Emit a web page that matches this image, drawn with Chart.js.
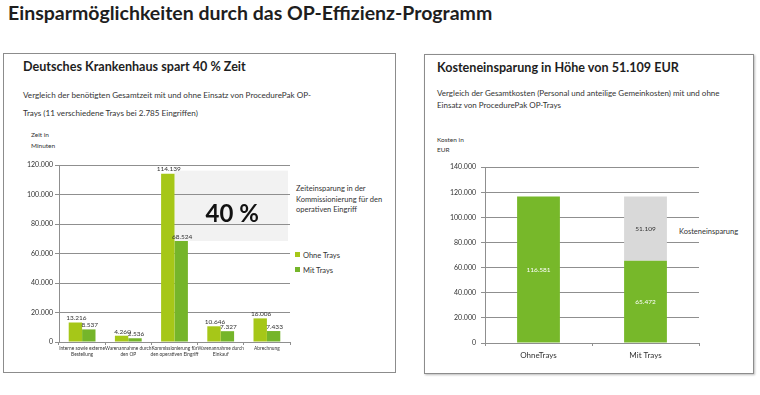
<!DOCTYPE html>
<html lang="de">
<head>
<meta charset="utf-8">
<script src="https://cdn.jsdelivr.net/npm/chart.js@4.4.0/dist/chart.umd.min.js"></script>
<style>
  body { margin: 0; width: 760px; height: 395px; background: #fff; position: relative; overflow: hidden;
         font-family: Lato, "Open Sans", sans-serif; color: #1e1e1e; }
  .t { position: absolute; white-space: nowrap; }
  .panel { position: absolute; border: 1px solid #8c8c8c; box-sizing: border-box; }
  canvas { position: absolute; }
  .sw { display: inline-block; width: 5px; height: 5px; margin-right: 3px; vertical-align: 1px; }
</style>
</head>
<body>
<div class="t" style="left:8px; top:1px; font-size:19.5px; font-weight:700; line-height:24px;">Einsparmöglichkeiten durch das OP-Effizienz-Programm</div>

<div class="panel" style="left:3px; top:53px; width:393px; height:320px;"></div>
<div class="panel" style="left:424px; top:54px; width:330px; height:320px; box-shadow:1px 1px 2px #bbb;"></div>

<div class="t" style="left:23px; top:59px; font-size:12.6px; font-weight:700; line-height:16px;">Deutsches Krankenhaus spart 40 % Zeit</div>
<div class="t" style="left:23px; top:86px; font-size:8.1px; line-height:18px; color:#333;">Vergleich der benötigten Gesamtzeit mit und ohne Einsatz von ProcedurePak OP-<br>Trays (11 verschiedene Trays bei 2.785 Eingriffen)</div>
<div class="t" style="left:31px; top:129px; font-size:6.5px; line-height:11px; color:#333;">Zeit in<br>Minuten</div>

<div class="t" style="left:437px; top:60px; font-size:12.6px; font-weight:700; line-height:16px;">Kosteneinsparung in Höhe von 51.109 EUR</div>
<div class="t" style="left:437px; top:87px; font-size:8px; line-height:12px; color:#333;">Vergleich der Gesamtkosten (Personal und anteilige Gemeinkosten) mit und ohne<br>Einsatz von ProcedurePak OP-Trays</div>
<div class="t" style="left:437px; top:135px; font-size:6.5px; line-height:10px; color:#333;">Kosten in<br>EUR</div>

<div class="t" style="left:296px; top:184px; font-size:7.5px; line-height:10.5px; color:#333;">Zeiteinsparung in der<br>Kommissionierung für den<br>operativen Eingriff</div>
<div class="t" id="legend" style="left:295px; top:248px; font-size:7.5px; line-height:15px; color:#333;"></div>
<div class="t" style="left:679px; top:227px; font-size:7.5px; line-height:10px; color:#333;">Kosteneinsparung</div>

<canvas id="timeChart" width="385" height="215" style="left:8px; top:155px; width:385px; height:215px;"></canvas>
<canvas id="costChart" width="320" height="210" style="left:430px; top:158px; width:320px; height:210px;"></canvas>

<script>
// Zeit (Minuten)
const timeCategories = [
  ["Interne sowie externe", "Bestellung"],
  ["Warenannahme durch", "den OP"],
  ["Kommissionierung für", "den operativen Eingriff"],
  ["Warenannahme durch", "Einkauf"],
  ["Abrechnung"]
];
const timeSeriesNames = ["Ohne Trays", "Mit Trays"];
const timeWithoutTrays = [13216, 4260, 114139, 10646, 16006];
const timeWithTrays = [8537, 2536, 68524, 7327, 7433];
const timeTicks = [0, 20000, 40000, 60000, 80000, 100000, 120000];

// Kosten (EUR)
const costCategories = ["OhneTrays", "Mit Trays"];
const costTotals = [116581, 65472];
const costSavings = [null, 51109];
const costTicks = [0, 20000, 40000, 60000, 80000, 100000, 120000, 140000];

const colorOhne = '#a6c718';
const colorMit = '#75b52a';
const colorCost = '#77b82a';
const colorSaving = '#d9d9d9';
const gridColor = '#8f8f8f';

const fmt = v => String(v).replace(/\B(?=(\d{3})+(?!\d))/g, '.');

// legend
document.getElementById('legend').innerHTML = timeSeriesNames.map((n, i) =>
  '<div><span class="sw" style="background:' + [colorOhne, colorMit][i] + '"></span>' + n + '</div>').join('');

// savings band behind the Kommissionierung bars + values above bars
const timeMarks = {
  id: 'timeMarks',
  beforeDraw(chart) {
    const ctx = chart.ctx, y = chart.scales.y, area = chart.chartArea;
    const i = timeWithoutTrays.indexOf(Math.max(...timeWithoutTrays));
    const bar = chart.getDatasetMeta(1).data[i];
    const x0 = bar.x - bar.width / 2;
    const y0 = y.getPixelForValue(timeWithoutTrays[i]) - 3;
    const y1 = y.getPixelForValue(timeWithTrays[i]);
    ctx.save();
    ctx.fillStyle = '#f2f2f2';
    ctx.fillRect(x0, y0, area.right - 2 - x0, y1 - y0);
    const sumA = timeWithoutTrays.reduce((a, b) => a + b, 0);
    const sumB = timeWithTrays.reduce((a, b) => a + b, 0);
    ctx.fillStyle = '#111';
    ctx.font = 'bold 24px Lato, sans-serif';
    ctx.textAlign = 'center';
    ctx.textBaseline = 'middle';
    ctx.fillText(Math.round((1 - sumB / sumA) * 100) + ' %', (x0 + area.right) / 2, (y0 + y1) / 2 + 8);
    ctx.restore();
  },
  afterDatasetsDraw(chart) {
    const ctx = chart.ctx;
    ctx.save();
    ctx.font = '6.5px Lato, sans-serif';
    ctx.fillStyle = '#333';
    ctx.textAlign = 'center';
    ctx.textBaseline = 'bottom';
    chart.data.datasets.forEach((ds, d) => {
      chart.getDatasetMeta(d).data.forEach((el, i) => {
        ctx.fillText(fmt(ds.data[i]), el.x + 1, el.y - 1);
      });
    });
    ctx.restore();
  }
};

new Chart(document.getElementById('timeChart'), {
  type: 'bar',
  data: {
    labels: timeCategories,
    datasets: [
      { label: timeSeriesNames[0], data: timeWithoutTrays, backgroundColor: colorOhne },
      { label: timeSeriesNames[1], data: timeWithTrays, backgroundColor: colorMit }
    ]
  },
  options: {
    responsive: false,
    animation: false,
    layout: { padding: { top: 10, right: 103, bottom: 0, left: 0 } },
    datasets: { bar: { categoryPercentage: 0.58, barPercentage: 1 } },
    plugins: { legend: { display: false }, tooltip: { enabled: false } },
    scales: {
      x: {
        grid: { offset: true, drawOnChartArea: false, tickLength: 3, color: gridColor },
        border: { color: gridColor },
        ticks: { font: { family: 'Lato', size: 4.8 }, color: '#333', maxRotation: 0, autoSkip: false, padding: 1 },
        afterFit: s => { s.height = 28; }
      },
      y: {
        min: 0, max: 120000,
        afterBuildTicks: s => { s.ticks = timeTicks.map(v => ({ value: v })); },
        grid: { color: gridColor, tickLength: 4 },
        border: { color: gridColor },
        ticks: { font: { family: 'Lato', size: 7 }, color: '#333', padding: 2, callback: v => fmt(v) },
        afterFit: s => { s.width = 51; }
      }
    }
  },
  plugins: [timeMarks]
});

// values inside the stacked bars
const costMarks = {
  id: 'costMarks',
  afterDatasetsDraw(chart) {
    const ctx = chart.ctx;
    ctx.save();
    ctx.font = '6.5px Lato, sans-serif';
    ctx.textAlign = 'center';
    ctx.textBaseline = 'middle';
    chart.data.datasets.forEach((ds, d) => {
      chart.getDatasetMeta(d).data.forEach((el, i) => {
        if (ds.data[i] == null) return;
        ctx.fillStyle = d === 0 ? '#fff' : '#333';
        ctx.fillText(fmt(ds.data[i]), el.x, (el.y + el.base) / 2);
      });
    });
    ctx.restore();
  }
};

new Chart(document.getElementById('costChart'), {
  type: 'bar',
  data: {
    labels: costCategories,
    datasets: [
      { label: 'Kosten', data: costTotals, backgroundColor: colorCost },
      { label: 'Kosteneinsparung', data: costSavings, backgroundColor: colorSaving }
    ]
  },
  options: {
    responsive: false,
    animation: false,
    layout: { padding: { top: 9, right: 51, bottom: 0, left: 0 } },
    datasets: { bar: { categoryPercentage: 0.4, barPercentage: 1 } },
    plugins: { legend: { display: false }, tooltip: { enabled: false } },
    scales: {
      x: {
        stacked: true,
        grid: { offset: true, drawOnChartArea: false, tickLength: 3, color: gridColor },
        border: { color: gridColor },
        ticks: { font: { family: 'Lato', size: 8 }, color: '#333', padding: 5 },
        afterFit: s => { s.height = 25; }
      },
      y: {
        stacked: true,
        min: 0, max: 140000,
        afterBuildTicks: s => { s.ticks = costTicks.map(v => ({ value: v })); },
        grid: { color: gridColor, tickLength: 4 },
        border: { color: gridColor },
        ticks: { font: { family: 'Lato', size: 7 }, color: '#333', padding: 5, callback: v => fmt(v) },
        afterFit: s => { s.width = 55; }
      }
    }
  },
  plugins: [costMarks]
});
</script>
</body>
</html>
